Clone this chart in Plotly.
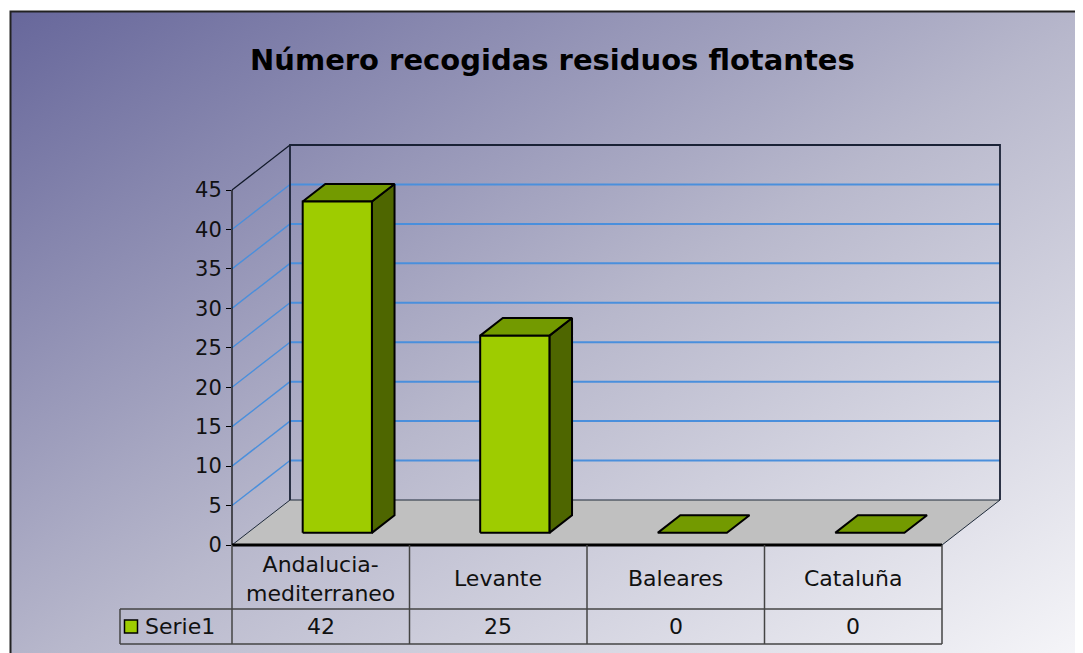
import base64
import plotly.graph_objects as go

# chart data
categories = ["Andalucia-<br>mediterraneo", "Levante", "Baleares", "Cataluña"]
values = [42, 25, 0, 0]
series_name = "Serie1"
y_ticks = [0, 5, 10, 15, 20, 25, 30, 35, 40, 45]
title = "Número recogidas residuos flotantes"

W, H = 1083, 653
OFF = 8                      # page body margin
# 3D box geometry (pixels)
PX0, PY0 = 232 - OFF, 545 - OFF   # front-left floor corner
PX_CAT = 177.5               # width of one category
PX_UNIT = 355 / 45           # pixels per value unit
DX = 58 / PX_CAT             # depth offset in category units
DY = 45 / PX_UNIT            # depth offset in value units
Z0, Z1 = 0.27, 0.66          # bar depth (fraction of box depth)
BAR_L, BAR_R = 0.31, 0.70    # bar extent inside a category slot
ROW1 = -64 / PX_UNIT         # table header row bottom
ROW2 = -99 / PX_UNIT         # table value row bottom
LEG_X = -112 / PX_CAT        # legend cell left

FRONT, SIDE, TOP = "#9ecc00", "#4e6600", "#739a00"
FLOOR = "#c0c0c0"
GRID = "#4a8fdc"
FONT = "DejaVu Sans"

n = len(categories)
ymax = y_ticks[-1]


def fx(px):
    return (px - PX0) / PX_CAT


def fy(py):
    return (PY0 - py) / PX_UNIT


fig = go.Figure()


def poly(xs, ys, fill=None, color="black", width=1):
    xs = list(xs) + [xs[0]]
    ys = list(ys) + [ys[0]]
    fig.add_trace(go.Scatter(
        x=xs, y=ys, mode="lines",
        fill="toself" if fill else None, fillcolor=fill,
        line=dict(color=color, width=width),
        hoverinfo="skip", showlegend=False))


def line(xs, ys, color="black", width=1):
    fig.add_trace(go.Scatter(
        x=xs, y=ys, mode="lines", line=dict(color=color, width=width),
        hoverinfo="skip", showlegend=False))


# floor
poly([0, n, n + DX, DX], [0, 0, DY, DY], fill=FLOOR, color="#1e2a3a", width=1)
line([0, n], [0, 0], width=3)

# side wall diagonals
for v in y_ticks[1:-1]:
    line([0, DX], [v, v + DY], color=GRID, width=1.4)
line([0, DX], [ymax, ymax + DY], color="#101828", width=1.2)

# back wall gridlines
for v in y_ticks[1:-1]:
    line([DX, n + DX], [v + DY, v + DY], color=GRID, width=2)
line([DX, DX, n + DX, n + DX], [DY, ymax + DY, ymax + DY, DY], color="#1a2236", width=1.8)

# bars
for i, v in enumerate(values):
    l0 = i + BAR_L + Z0 * DX
    r0 = i + BAR_R + Z0 * DX
    b0 = Z0 * DY
    ddx = (Z1 - Z0) * DX
    ddy = (Z1 - Z0) * DY
    if v > 0:
        poly([r0, r0 + ddx, r0 + ddx, r0], [b0, b0 + ddy, b0 + v + ddy, b0 + v],
             fill=SIDE, width=2)
    poly([l0, r0, r0 + ddx, l0 + ddx], [b0 + v, b0 + v, b0 + v + ddy, b0 + v + ddy],
         fill=TOP, width=2)
    if v > 0:
        poly([l0, r0, r0, l0], [b0, b0, b0 + v, b0 + v], fill=FRONT, width=2)

# value axis line
line([0, 0], [0, ymax], width=1.2)

# data table grid
TC = "#444444"
line([LEG_X, n], [ROW1, ROW1], color=TC, width=1.5)
line([LEG_X, n], [ROW2, ROW2], color=TC, width=1.5)
line([LEG_X, LEG_X], [ROW1, ROW2], color=TC, width=1.5)
for i in range(n + 1):
    line([i, i], [0, ROW2], color=TC, width=1.5)

# legend key
fig.add_trace(go.Scatter(
    x=[fx(131 - OFF)], y=[(ROW1 + ROW2) / 2], mode="markers",
    marker=dict(symbol="square", size=13, color=FRONT, line=dict(color="black", width=1.5)),
    hoverinfo="skip", showlegend=False))

annotations = [dict(
    text=f"<b>{title}</b>", xref="paper", yref="paper",
    x=(552 - OFF) / W, y=1 - (60 - OFF) / H, xanchor="center", yanchor="middle",
    showarrow=False, font=dict(family=FONT, size=29, color="black"))]
for i, (c, v) in enumerate(zip(categories, values)):
    annotations.append(dict(text=c, x=i + 0.5, y=ROW1 / 2 - 0.2, showarrow=False,
                            yanchor="middle",
                            font=dict(family=FONT, size=22, color="#111111")))
    annotations.append(dict(text=str(v), x=i + 0.5, y=(ROW1 + ROW2) / 2, showarrow=False,
                            yanchor="middle",
                            font=dict(family=FONT, size=22, color="#111111")))
annotations.append(dict(text=series_name, x=fx(143 - OFF), y=(ROW1 + ROW2) / 2,
                        xanchor="left", yanchor="middle", showarrow=False,
                        font=dict(family=FONT, size=22, color="#111111")))

svg = (
    f"<svg xmlns='http://www.w3.org/2000/svg' width='{W}' height='{H}'>"
    "<defs><linearGradient id='g' x1='0' y1='0' x2='1' y2='1'>"
    "<stop offset='0' stop-color='#67679b'/>"
    "<stop offset='0.5' stop-color='#b8b8cc'/>"
    "<stop offset='1' stop-color='#fafafc'/>"
    "</linearGradient></defs>"
    f"<rect x='{10.5 - OFF}' y='{11.5 - OFF}' width='{W + 20}' height='{H + 20}' "
    "fill='url(#g)' stroke='#222222' stroke-width='2'/></svg>"
)
bg = "data:image/svg+xml;base64," + base64.b64encode(svg.encode()).decode()

fig.update_layout(
    width=W, height=H, autosize=False,
    margin=dict(l=0, r=0, t=0, b=0),
    paper_bgcolor="white", plot_bgcolor="rgba(0,0,0,0)",
    showlegend=False,
    annotations=annotations,
    images=[dict(source=bg, xref="paper", yref="paper", x=0, y=1,
                 sizex=1, sizey=1, xanchor="left", yanchor="top",
                 sizing="stretch", layer="below")],
    xaxis=dict(visible=False, range=[fx(0), fx(W)], fixedrange=True),
    yaxis=dict(range=[fy(H), fy(0)], anchor="free", position=(PX0 - 1) / W,
               tickvals=y_ticks, ticktext=[str(t) for t in y_ticks],
               ticks="outside", ticklen=5, tickwidth=1, tickcolor="black",
               showline=False, showgrid=False, zeroline=False, automargin=False,
               tickfont=dict(family=FONT, size=21, color="#111111"),
               fixedrange=True),
)

fig.write_html("out.html")
